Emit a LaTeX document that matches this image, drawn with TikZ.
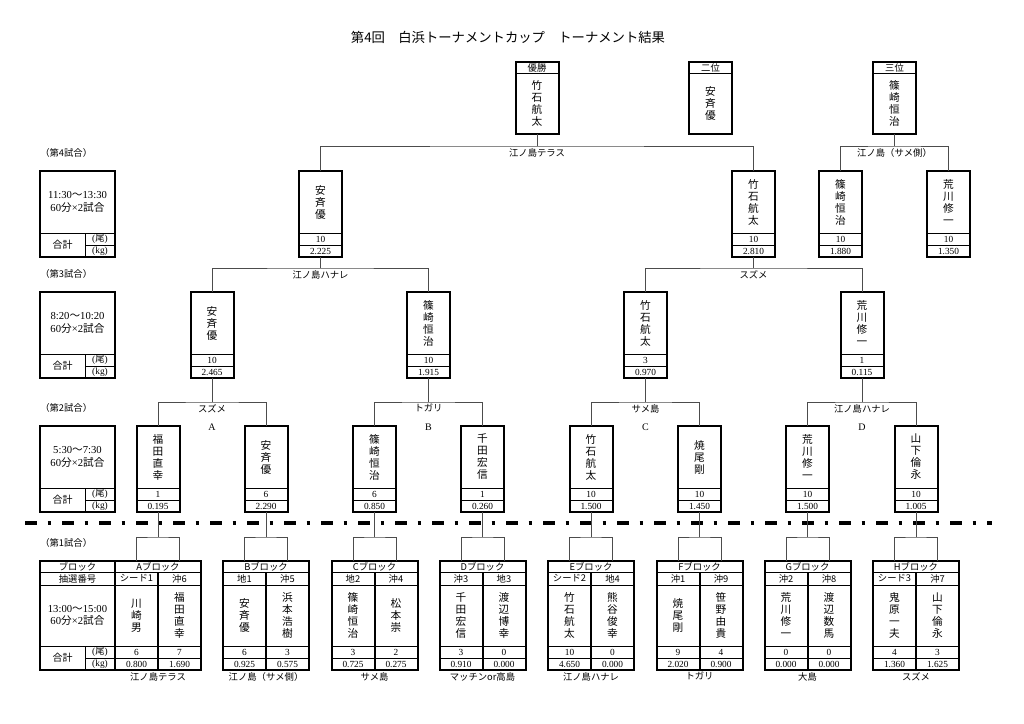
\documentclass[tikz,border=0pt]{standalone}
\usepackage{fontspec}
\setmainfont{Liberation Serif}
\newfontfamily\cjk{Noto Sans CJK JP}
\usetikzlibrary{positioning}
\tikzset{
  outer/.style={line width=1.5pt},
  cell/.style={draw, line width=0.6pt, inner sep=0pt, outer sep=0pt},
  namebox/.style={cell, minimum width=32.25pt, minimum height=46.5pt, align=center, font=\cjk\fontsize{8}{9}\selectfont},
  rowbox/.style={cell, minimum width=32.25pt, minimum height=9pt, font=\fontsize{7}{8}\selectfont},
  headbox/.style={cell, minimum width=32.25pt, minimum height=8.25pt, font=\cjk\fontsize{7}{8}\selectfont},
  seedbox/.style={cell, minimum width=32.25pt, minimum height=9.75pt, font=\cjk\fontsize{7}{8}\selectfont},
  link/.style={line width=0.6pt, black!70},
  place/.style={inner sep=0pt, font=\cjk\fontsize{7}{8}\selectfont},
  cutline/.style={line width=3pt, dash pattern=on 9pt off 7.9pt on 2.25pt off 8.6pt},
}
\newcommand\player[6]{%
  \node[namebox, anchor=north] (#1) at (#2,#3) {#4};
  \node[rowbox, below=0pt of #1] (#1-n) {#5};
  \node[rowbox, below=0pt of #1-n] (#1-w) {#6};
  \draw[outer] (#1.north west) rectangle (#1-w.south east);
}
\newcommand\rank[4]{%
  \node[headbox, anchor=north] (#1-h) at (#2,62) {#3};
  \node[namebox, minimum height=45.75pt, below=0pt of #1-h] (#1) {#4};
  \draw[outer] (#1-h.north west) rectangle (#1.south east);
}
\newcommand\sumcells[1]{%
  \node[cell, anchor=north west, minimum width=33.75pt, minimum height=18pt, font=\cjk\fontsize{7.5}{9}\selectfont] (#1-s) at (#1.south west) {合計};
  \node[cell, anchor=north west, minimum width=22.5pt, minimum height=9pt, font=\fontsize{7}{8}\selectfont] (#1-u) at (#1-s.north east) {({\cjk 尾})};
  \node[cell, anchor=north west, minimum width=22.5pt, minimum height=9pt, font=\fontsize{7}{8}\selectfont] (#1-k) at (#1-u.south west) {(kg)};
}
\newcommand\infobox[4]{%
  \node[place, anchor=west] (#1-t) at (40,#2-18) {#3};
  \node[cell, anchor=north west, minimum width=56.25pt, minimum height=46.5pt, align=center, font=\fontsize{8}{9.5}\selectfont] (#1) at (40,#2) {#4};
  \sumcells{#1}
  \draw[outer] (#1.north west) rectangle (#1-k.south east);
}
\begin{document}
\begin{tikzpicture}[x=0.75pt,y=-0.75pt]
\useasboundingbox (0,0) rectangle (1024,724);
\node[font=\cjk\fontsize{10}{12}\selectfont] (title) at (508,37) {第4回　白浜トーナメントカップ　トーナメント結果};

\rank{win}{537}{優勝}{竹\\石\\航\\太}
\rank{second}{710.5}{二位}{安\\斉\\優}
\rank{third}{894.5}{三位}{篠\\崎\\恒\\治}

\infobox{i4}{171}{（第4試合）}{11:30{\cjk ～}13:30\\60{\cjk 分}×2{\cjk 試合}}
\infobox{i3}{292}{（第3試合）}{8:20{\cjk ～}10:20\\60{\cjk 分}×2{\cjk 試合}}
\infobox{i2}{426}{（第2試合）}{5:30{\cjk ～}7:30\\60{\cjk 分}×2{\cjk 試合}}

\player{r4a}{320.5}{171}{安\\斉\\優}{10}{2.225}
\player{r4b}{753.5}{171}{竹\\石\\航\\太}{10}{2.810}
\player{r4c}{840.5}{171}{篠\\崎\\恒\\治}{10}{1.880}
\player{r4d}{948.5}{171}{荒\\川\\修\\一}{10}{1.350}

\player{r3a}{212}{292}{安\\斉\\優}{10}{2.465}
\player{r3b}{428.5}{292}{篠\\崎\\恒\\治}{10}{1.915}
\player{r3c}{645.5}{292}{竹\\石\\航\\太}{3}{0.970}
\player{r3d}{862}{292}{荒\\川\\修\\一}{1}{0.115}

\player{r2a}{158}{426}{福\\田\\直\\幸}{1}{0.195}
\player{r2b}{266}{426}{安\\斉\\優}{6}{2.290}
\player{r2c}{374.5}{426}{篠\\崎\\恒\\治}{6}{0.850}
\player{r2d}{482.5}{426}{千\\田\\宏\\信}{1}{0.260}
\player{r2e}{591}{426}{竹\\石\\航\\太}{10}{1.500}
\player{r2f}{699.5}{426}{焼\\尾\\剛}{10}{1.450}
\player{r2g}{807.5}{426}{荒\\川\\修\\一}{10}{1.500}
\player{r2h}{916}{426}{山\\下\\倫\\永}{10}{1.005}

\coordinate (m1) at (537,146);
\coordinate (m2) at (894.5,146);
\coordinate (s1) at (320.5,268);
\coordinate (s2) at (753.5,268);
\coordinate (qa) at (212,402);
\coordinate (qb) at (428.5,402);
\coordinate (qc) at (645.5,402);
\coordinate (qd) at (862,402);

\draw[link] (win.south) -- (m1);
\draw[link] (r4a.north) |- (m1) -| (r4b.north);
\draw[link] (third.south) -- (m2);
\draw[link] (r4c.north) |- (m2) -| (r4d.north);
\draw[link] (r4a-w.south) -- (s1);
\draw[link] (r3a.north) |- (s1) -| (r3b.north);
\draw[link] (r4b-w.south) -- (s2);
\draw[link] (r3c.north) |- (s2) -| (r3d.north);
\draw[link] (r3a-w.south) -- (qa);
\draw[link] (r2a.north) |- (qa) -| (r2b.north);
\draw[link] (r3b-w.south) -- (qb);
\draw[link] (r2c.north) |- (qb) -| (r2d.north);
\draw[link] (r3c-w.south) -- (qc);
\draw[link] (r2e.north) |- (qc) -| (r2f.north);
\draw[link] (r3d-w.south) -- (qd);
\draw[link] (r2g.north) |- (qd) -| (r2h.north);

\node[place, below=1.5pt of m1] (p1) {江ノ島テラス};
\node[place, below=1.5pt of m2] (p2) {江ノ島（サメ側）};
\node[place, below=1.5pt of s1] (p3) {江ノ島ハナレ};
\node[place, below=1.5pt of s2] (p4) {スズメ};
\node[place, below=1.5pt of qa] (p5) {スズメ};
\node[place, below=1.5pt of qb] (p6) {トガリ};
\node[place, below=1.5pt of qc] (p7) {サメ島};
\node[place, below=1.5pt of qd] (p8) {江ノ島ハナレ};
\node[font=\fontsize{7.5}{9}\selectfont] (la) at (212,427) {A};
\node[font=\fontsize{7.5}{9}\selectfont] (lb) at (428.5,427) {B};
\node[font=\fontsize{7.5}{9}\selectfont] (lc) at (645.5,427) {C};
\node[font=\fontsize{7.5}{9}\selectfont] (ld) at (862,427) {D};

\draw[cutline] (25,523) -- (992,523);

\node[place, anchor=west] (i1-t) at (40,543) {（第1試合）};
\node[cell, anchor=north west, minimum width=56.25pt, minimum height=8.25pt, font=\cjk\fontsize{7}{8}\selectfont] (i1-b) at (40,561) {ブロック};
\node[cell, below=0pt of i1-b, minimum width=56.25pt, minimum height=9.75pt, font=\cjk\fontsize{7}{8}\selectfont] (i1-d) {抽選番号};
\node[cell, below=0pt of i1-d, minimum width=56.25pt, minimum height=45.75pt, align=center, font=\fontsize{8}{9.5}\selectfont] (i1) {13:00{\cjk ～}15:00\\60{\cjk 分}×2{\cjk 試合}};
\sumcells{i1}
\draw[outer] (i1-b.north west) rectangle (i1-k.south east);

\foreach \bk/\hd/\cx/\sdA/\sdB/\nmA/\nmB/\ctA/\ctB/\kgA/\kgB/\spot in {
  a/A/158/シード1/沖6/{川\\崎\\男}/{福\\田\\直\\幸}/6/7/0.800/1.690/江ノ島テラス,
  b/B/266/地1/沖5/{安\\斉\\優}/{浜\\本\\浩\\樹}/6/3/0.925/0.575/江ノ島（サメ側）,
  c/C/374.5/地2/沖4/{篠\\崎\\恒\\治}/{松\\本\\崇}/3/2/0.725/0.275/サメ島,
  d/D/482.5/沖3/地3/{千\\田\\宏\\信}/{渡\\辺\\博\\幸}/3/0/0.910/0.000/マッチンor高島,
  e/E/591/シード2/地4/{竹\\石\\航\\太}/{熊\\谷\\俊\\幸}/10/0/4.650/0.000/江ノ島ハナレ,
  f/F/699.5/沖1/沖9/{焼\\尾\\剛}/{笹\\野\\由\\貴}/9/4/2.020/0.900/トガリ,
  g/G/807.5/沖2/沖8/{荒\\川\\修\\一}/{渡\\辺\\数\\馬}/0/0/0.000/0.000/大島,
  h/H/916/シード3/沖7/{鬼\\原\\一\\夫}/{山\\下\\倫\\永}/4/3/1.360/1.625/スズメ} {
  \node[cell, anchor=north, minimum width=64.5pt, minimum height=8.25pt, font=\cjk\fontsize{7}{8}\selectfont] (b\bk) at (\cx,561) {\hd ブロック};
  \node[seedbox, anchor=north east] (b\bk-sl) at (b\bk.south) {\sdA};
  \node[seedbox, anchor=north west] (b\bk-sr) at (b\bk.south) {\sdB};
  \node[namebox, minimum height=45.75pt, below=0pt of b\bk-sl] (b\bk-nl) {\nmA};
  \node[namebox, minimum height=45.75pt, below=0pt of b\bk-sr] (b\bk-nr) {\nmB};
  \node[rowbox, below=0pt of b\bk-nl] (b\bk-cl) {\ctA};
  \node[rowbox, below=0pt of b\bk-nr] (b\bk-cr) {\ctB};
  \node[rowbox, below=0pt of b\bk-cl] (b\bk-wl) {\kgA};
  \node[rowbox, below=0pt of b\bk-cr] (b\bk-wr) {\kgB};
  \draw[outer] (b\bk.north west) rectangle (b\bk-wr.south east);
  \draw[outer] (b\bk-sl.north east) -- (b\bk-wl.south east);
  \node[place, anchor=north] (b\bk-p) at (\cx,672) {\spot};
  \coordinate (j\bk) at (\cx,537);
  \draw[link] (r2\bk-w.south) -- (j\bk);
  \draw[link] (b\bk-sl.north |- b\bk.north) |- (j\bk) -| (b\bk-sr.north |- b\bk.north);
}
\end{tikzpicture}
\end{document}
